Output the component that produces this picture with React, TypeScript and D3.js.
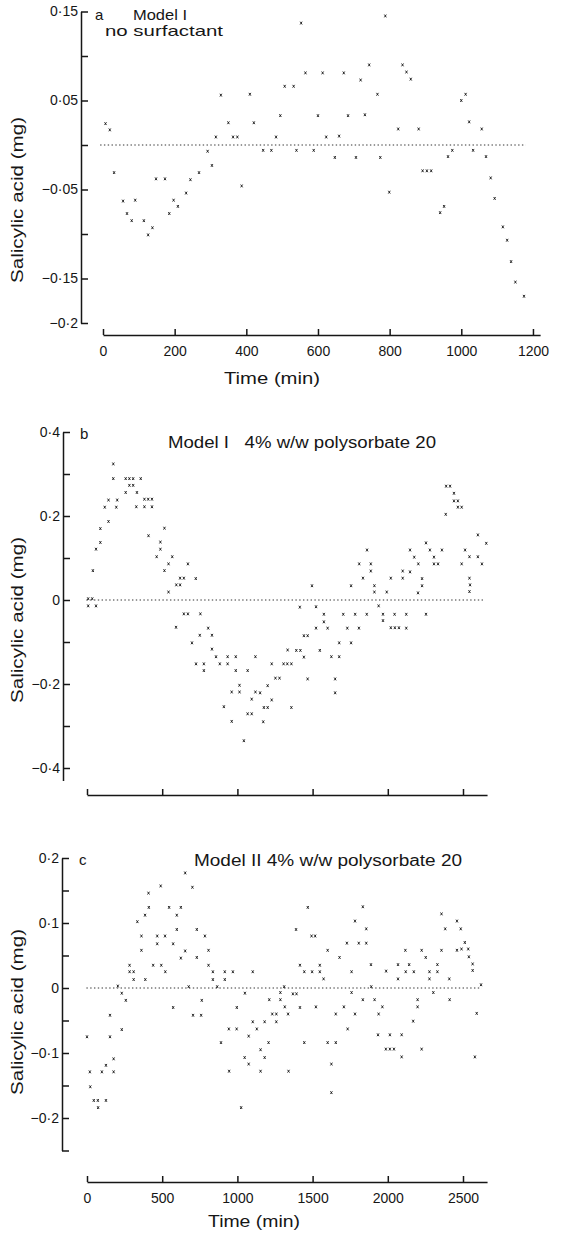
import { useEffect, useRef } from "react";
import { select, scaleLinear, axisLeft, axisBottom } from "d3";

const FONT = "'Liberation Sans', Arial, sans-serif";
const INK = "#161616";

// panel a: Model I, no surfactant (time in min, salicylic acid in mg)
const timeA = [7, 19, 31, 56, 67, 80, 90, 114, 126, 138, 148, 173, 185, 197, 209, 232, 244, 268, 292, 304, 315, 329, 350, 363, 375, 387, 410, 421, 447, 470, 483, 495, 507, 532, 540, 553, 565, 588, 600, 613, 623, 647, 659, 672, 684, 706, 719, 731, 743, 766, 774, 788, 799, 824, 836, 847, 859, 881, 892, 904, 916, 941, 952, 963, 975, 1000, 1012, 1022, 1033, 1057, 1069, 1082, 1093, 1116, 1128, 1139, 1151, 1175];
const acidA = [0.024, 0.017, -0.031, -0.063, -0.077, -0.085, -0.062, -0.085, -0.101, -0.093, -0.038, -0.038, -0.077, -0.062, -0.069, -0.054, -0.039, -0.031, -0.007, -0.023, 0.009, 0.056, 0.025, 0.009, 0.009, -0.046, 0.057, 0.025, -0.006, -0.006, 0.009, 0.033, 0.066, 0.066, -0.006, 0.137, 0.081, -0.006, 0.033, 0.081, 0.009, -0.014, 0.01, 0.081, 0.033, -0.014, 0.073, 0.034, 0.09, 0.057, -0.014, 0.145, -0.053, 0.018, 0.09, 0.082, 0.074, 0.018, -0.029, -0.029, -0.029, -0.076, -0.069, -0.013, -0.006, 0.05, 0.057, 0.026, -0.006, 0.018, -0.013, -0.037, -0.06, -0.092, -0.107, -0.131, -0.154, -0.17];

// panel b: Model I, 4% w/w polysorbate 20
const timeB = [175, 175, 257, 282, 307, 357, 282, 307, 257, 332, 143, 201, 382, 407, 432, 118, 195, 328, 382, 432, 143, 89, 515, 409, 89, 488, 60, 488, 463, 567, 542, 671, 515, 39, 619, 644, 723, 594, 619, 542, 8, 35, 8, 60, 644, 671, 754, 592, 806, 750, 831, 698, 831, 858, 935, 989, 1120, 725, 777, 883, 935, 777, 989, 1068, 1014, 962, 1014, 1120, 1095, 910, 1068, 1095, 962, 1043,
  1151, 1172, 1176, 1201, 1201, 1228, 1228, 1253, 1280, 1307, 1332, 1359, 1359, 1334, 1392, 1419, 1415, 1442, 1442, 1467, 1467, 1496, 1523, 1523, 1548, 1575, 1575, 1600, 1625, 1650, 1650, 1677, 1677, 1704, 1731, 1756, 1756, 1783, 1808, 1810, 1835, 1860, 1862, 1887, 1887, 1911, 1911, 1939, 1968, 1968, 1993, 2020, 2020, 2045, 2047, 2074, 2099, 2099, 2123, 2123, 2148, 2148, 2176, 2201, 2203, 2228, 2228, 2254, 2254, 2280, 2307, 2307, 2334, 2360, 2385, 2388, 2414, 2440, 2440, 2466, 2466, 2491, 2491, 2514, 2543, 2543, 2543, 2547, 2599, 2599, 2626, 2655];
const acidB = [0.324, 0.289, 0.289, 0.289, 0.289, 0.289, 0.273, 0.273, 0.256, 0.256, 0.238, 0.238, 0.24, 0.24, 0.24, 0.221, 0.221, 0.222, 0.222, 0.222, 0.187, 0.17, 0.171, 0.153, 0.137, 0.138, 0.121, 0.121, 0.103, 0.103, 0.086, 0.086, 0.07, 0.07, 0.052, 0.052, 0.051, 0.036, 0.036, 0.019, 0.003, 0.003, -0.014, -0.014, -0.033, -0.033, -0.033, -0.065, -0.067, -0.084, -0.084, -0.102, -0.117, -0.135, -0.135, -0.135, -0.135, -0.152, -0.152, -0.152, -0.152, -0.168, -0.168, -0.168, -0.203, -0.219, -0.219, -0.219, -0.236, -0.254, -0.271, -0.271, -0.289, -0.335,
  -0.221, -0.29, -0.256, -0.204, -0.256, -0.152, -0.238, -0.186, -0.186, -0.152, -0.152, -0.152, -0.256, -0.119, -0.12, -0.12, -0.017, -0.085, -0.136, -0.085, -0.188, 0.034, -0.016, -0.067, -0.12, -0.034, -0.052, -0.067, -0.135, -0.188, -0.221, -0.102, -0.135, -0.034, -0.067, 0.034, -0.102, -0.034, -0.067, 0.086, 0.052, -0.034, 0.119, 0.086, 0.069, 0.034, 0.019, -0.014, -0.034, -0.049, 0.019, 0.052, -0.066, -0.034, -0.066, -0.066, 0.069, 0.052, -0.034, -0.067, 0.119, 0.067, 0.102, 0.017, 0.086, 0.051, 0.034, 0.136, -0.034, 0.119, 0.102, 0.086, 0.086, 0.119, 0.204, 0.271, 0.271, 0.254, 0.236, 0.236, 0.221, 0.221, 0.086, 0.119, 0.103, 0.052, 0.02, 0.036, 0.155, 0.103, 0.086, 0.135];

// panel c: Model II, 4% w/w polysorbate 20
const timeC = [0, 19, 22, 45, 72, 74, 99, 126, 126, 153, 153, 177, 177, 205, 231, 231, 258, 283, 283, 310, 310, 335, 362, 362, 386, 388, 409, 411, 440, 467, 467, 490, 494, 519, 521, 546, 573, 573, 597, 597, 624, 624, 653, 653, 676, 701, 705, 730, 730, 759, 763, 784, 808, 808, 837, 837, 866, 891, 916, 916, 943, 945, 970, 995, 996, 1025, 1048, 1050, 1075, 1075, 1102, 1102, 1129, 1154, 1154, 1181, 1181,
  1207, 1212, 1232, 1259, 1259, 1286, 1286, 1311, 1315, 1337, 1340, 1369, 1390, 1393, 1416, 1416, 1445, 1445, 1468, 1493, 1497, 1517, 1522, 1548, 1548, 1573, 1600, 1600, 1625, 1625, 1654, 1654, 1679, 1708, 1728, 1733, 1759, 1759, 1782, 1782, 1807, 1834, 1834, 1857, 1857, 1888, 1890, 1912, 1935, 1939, 1964, 1987, 1989, 2014, 2014, 2041, 2068, 2068, 2092, 2092, 2117, 2119, 2142, 2169, 2173, 2198, 2198, 2225, 2225, 2252, 2277, 2277, 2303, 2330, 2330, 2357, 2357, 2382, 2409, 2411, 2460, 2460, 2485, 2490, 2512, 2535, 2539, 2564, 2564, 2579, 2591, 2620];
const acidC = [-0.075, -0.129, -0.152, -0.173, -0.173, -0.184, -0.129, -0.119, -0.173, -0.042, -0.075, -0.109, -0.129, 0.003, -0.008, -0.064, -0.019, 0.035, 0.025, 0.025, 0.013, 0.102, 0.08, 0.058, 0.112, 0.013, 0.146, 0.124, 0.035, 0.08, 0.068, 0.157, 0.035, 0.08, 0.025, 0.124, 0.068, -0.03, 0.09, 0.112, 0.124, 0.046, 0.177, 0.057, 0.002, 0.155, -0.042, 0.09, 0.047, -0.042, -0.019, 0.08, 0.058, 0.035, 0.025, 0.013, 0.002, -0.084, 0.025, 0.013, -0.063, -0.128, 0.025, -0.063, -0.03, -0.184, -0.107, -0.008, -0.074, -0.117, 0.025, -0.052, -0.063, -0.095, -0.128, -0.052, -0.107,
  -0.084, -0.018, -0.04, -0.04, -0.052, -0.007, -0.018, 0.002, -0.029, -0.04, -0.128, -0.009, 0.09, -0.009, 0.035, -0.03, 0.025, -0.084, 0.124, 0.08, 0.025, 0.08, -0.029, 0.035, 0.025, 0.014, 0.058, -0.084, -0.117, -0.161, -0.04, -0.084, 0.047, -0.029, 0.069, -0.063, 0.025, -0.007, 0.103, -0.04, 0.069, 0.125, -0.018, 0.091, 0.069, 0.036, 0.002, -0.018, -0.072, -0.04, -0.029, -0.094, 0.026, -0.072, -0.094, -0.094, 0.036, 0.014, -0.072, -0.106, 0.058, 0.025, 0.036, -0.051, 0.025, -0.018, -0.029, 0.058, -0.094, 0.047, 0.025, 0.014, -0.007, 0.025, 0.036, 0.058, 0.114, 0.091, 0.014, -0.018, 0.103, 0.058, 0.091, 0.06, 0.07, 0.06, 0.048, 0.037, 0.027, -0.106, -0.039, 0.005];

// axes ticks and labels
const xTicksA = [0, 200, 400, 600, 800, 1000, 1200];
const xTicksBC = [0, 500, 1000, 1500, 2000, 2500];
const yTicksA = [0.15, 0.1, 0.05, 0, -0.05, -0.1, -0.15, -0.2];
const yLabelsA = ["0·15", "", "0·05", "", "−0·05", "", "−0·15", "−0·2"];
const yTicksB = [0.4, 0.3, 0.2, 0.1, 0, -0.1, -0.2, -0.3, -0.4];
const yLabelsB = ["0·4", "", "0·2", "", "0", "", "−0·2", "", "−0·4"];
const yTicksC = [0.2, 0.15, 0.1, 0.05, 0, -0.05, -0.1, -0.15, -0.2, -0.25];
const yLabelsC = ["0·2", "", "0·1", "", "0", "", "−0·1", "", "−0·2", ""];

const Panel = ({ times, values, x, y, xAxisY, yAxisX, xTicks, showXLabels, yTicks, yLabels, zeroSpan }: any) => {
  const xRef = useRef<SVGGElement>(null);
  const yRef = useRef<SVGGElement>(null);

  useEffect(() => {
    const xg = select(xRef.current);
    xg.call(
      axisBottom(x)
        .tickValues(xTicks)
        .tickSizeInner(-6)
        .tickSizeOuter(0)
        .tickPadding(11)
        .tickFormat((d: any) => (showXLabels ? String(d) : ""))
    );
    const yg = select(yRef.current);
    yg.call(
      axisLeft(y)
        .tickValues(yTicks)
        .tickSizeInner(-7)
        .tickSizeOuter(0)
        .tickPadding(3)
        .tickFormat((d: any, i: number) => yLabels[i])
    );
    [xg, yg].forEach((g) => {
      g.attr("font-family", FONT).attr("font-size", 14);
      g.select(".domain").attr("stroke", INK).attr("stroke-width", 1.5);
      g.selectAll(".tick line").attr("stroke", INK).attr("stroke-width", 1.5);
      g.selectAll("text").attr("fill", INK);
    });
  }, []);

  const y0 = y(0);
  return (
    <g>
      <line
        x1={x(zeroSpan[0])}
        x2={x(zeroSpan[1])}
        y1={y0}
        y2={y0}
        stroke="#333"
        strokeWidth={1}
        strokeDasharray="1.4 2.4"
      />
      {times.map((t: number, i: number) => {
        const cx = x(t);
        const cy = y(values[i]);
        return (
          <path
            key={i}
            d={`M${cx - 1},${cy - 1.4}L${cx + 1},${cy + 1.4}M${cx + 1},${cy - 1.4}L${cx - 1},${cy + 1.4}`}
            stroke={INK}
            strokeWidth={0.9}
          />
        );
      })}
      <g ref={xRef} transform={`translate(0,${xAxisY})`} />
      <g ref={yRef} transform={`translate(${yAxisX},0)`} />
    </g>
  );
};

const YLabel = ({ cx, cy }: any) => (
  <text
    transform={`translate(${cx},${cy}) rotate(-90)`}
    textAnchor="middle"
    dominantBaseline="middle"
    fontSize={16}
    textLength={166}
    lengthAdjust="spacingAndGlyphs"
  >
    Salicylic acid (mg)
  </text>
);

export default function App() {
  const xA = scaleLinear().domain([0, 1220]).range([103, 103 + 1220 * 0.3583]);
  const yA = scaleLinear().domain([-0.2, 0.15]).range([323, 11.5]);
  const xB = scaleLinear().domain([0, 2660]).range([87, 87 + 2660 * 0.1504]);
  const yB = scaleLinear().domain([-0.43, 0.4]).range([780.6, 432]);
  const xC = scaleLinear().domain([0, 2660]).range([87, 87 + 2660 * 0.1504]);
  const yC = scaleLinear().domain([-0.25, 0.2]).range([1150.5, 858]);

  return (
    <svg
      width={563}
      height={1233}
      style={{ position: "absolute", left: 0, top: 0, background: "#fff" }}
      fontFamily={FONT}
      fill={INK}
    >
      <Panel times={timeA} values={acidA} x={xA} y={yA} xAxisY={335} yAxisX={81}
        xTicks={xTicksA} showXLabels={true} yTicks={yTicksA} yLabels={yLabelsA} zeroSpan={[-8, 1180]} />
      <Panel times={timeB} values={acidB} x={xB} y={yB} xAxisY={795} yAxisX={63}
        xTicks={xTicksBC} showXLabels={false} yTicks={yTicksB} yLabels={yLabelsB} zeroSpan={[-4, 2648]} />
      <Panel times={timeC} values={acidC} x={xC} y={yC} xAxisY={1182} yAxisX={62}
        xTicks={xTicksBC} showXLabels={true} yTicks={yTicksC} yLabels={yLabelsC} zeroSpan={[-4, 2624]} />

      <YLabel cx={19} cy={200} />
      <YLabel cx={19} cy={620} />
      <YLabel cx={19} cy={1012} />

      <text x={272} y={384} textAnchor="middle" fontSize={16} textLength={96} lengthAdjust="spacingAndGlyphs">Time (min)</text>
      <text x={254} y={1227} textAnchor="middle" fontSize={16} textLength={92} lengthAdjust="spacingAndGlyphs">Time (min)</text>

      <text x={95} y={20} fontSize={15}>a</text>
      <text x={133} y={20} fontSize={15} textLength={54} lengthAdjust="spacingAndGlyphs">Model I</text>
      <text x={105} y={36} fontSize={15} textLength={118} lengthAdjust="spacingAndGlyphs">no surfactant</text>

      <text x={80} y={439} fontSize={15}>b</text>
      <text x={168} y={448} fontSize={16} textLength={268} lengthAdjust="spacingAndGlyphs" xmlSpace="preserve">Model I   4% w/w polysorbate 20</text>

      <text x={79} y={865} fontSize={15}>c</text>
      <text x={194} y={866} fontSize={16} textLength={268} lengthAdjust="spacingAndGlyphs">Model II 4% w/w polysorbate 20</text>
    </svg>
  );
}
